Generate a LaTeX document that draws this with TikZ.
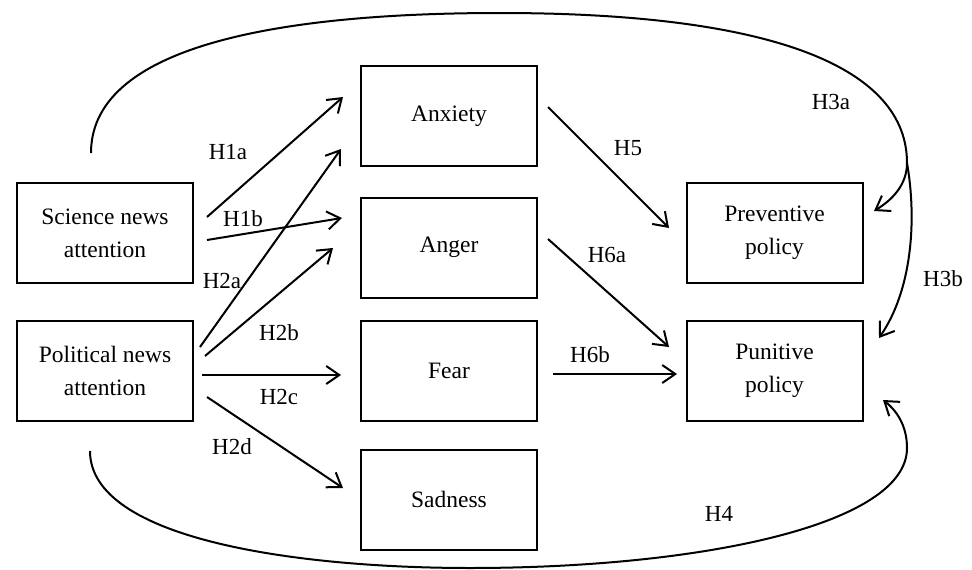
\documentclass[tikz,border=0pt]{standalone}
\usepackage{fontspec}
\setmainfont{Liberation Serif}
\usetikzlibrary{arrows.meta}
\begin{document}
\begin{tikzpicture}[x=1pt,y=-1pt,
  boxnode/.style={draw,line width=2pt,minimum width=176pt,minimum height=100pt,inner sep=0pt,align=center,font=\fontsize{23.5}{33}\selectfont},
  lab/.style={font=\fontsize{23}{26}\selectfont,inner sep=0pt},
  conn/.style={line width=2pt,-{Straight Barb[length=13pt,width=18pt,line width=2pt]}},
  plain/.style={line width=2pt}]
\useasboundingbox (0,0) rectangle (972,570);
% boxes
\node[boxnode] (sci)  at (105,233)   {Science news\\attention};
\node[boxnode] (pol)  at (105,370.5) {Political news\\attention};
\node[boxnode] (anx)  at (449,116)   {Anxiety};
\node[boxnode] (ang)  at (449,247.5) {Anger};
\node[boxnode] (fear) at (449,371)   {Fear};
\node[boxnode] (sad)  at (449,499.5) {Sadness};
\node[boxnode] (prev) at (774.5,233) {Preventive\\policy};
\node[boxnode] (pun)  at (774.5,371) {Punitive\\policy};
% connector ends
\coordinate (h1as) at (207,217); \coordinate (h1ae) at (343,97);
\coordinate (h1bs) at (207,240); \coordinate (h1be) at (342,218);
\coordinate (h2as) at (200,347); \coordinate (h2ae) at (341,149);
\coordinate (h2bs) at (205,356); \coordinate (h2be) at (333,248);
\coordinate (h2cs) at (202,375); \coordinate (h2ce) at (341,375);
\coordinate (h2ds) at (207,397); \coordinate (h2de) at (343,488);
\coordinate (h5s)  at (548,107); \coordinate (h5e)  at (669,228);
\coordinate (h6as) at (548,239); \coordinate (h6ae) at (669,347);
\coordinate (h6bs) at (553,374); \coordinate (h6be) at (677,374);
\coordinate (tops) at (91,153);  \coordinate (topm) at (500,13);
\coordinate (branch) at (907,163);
\coordinate (h3ae) at (874,211); \coordinate (h3be) at (879,338);
\coordinate (bots) at (90,451);  \coordinate (botm) at (470,568);
\coordinate (botr) at (907,448); \coordinate (h4e) at (883,400);
% straight connectors
\draw[conn] (h1as) -- (h1ae);
\draw[conn] (h1bs) -- (h1be);
\draw[conn] (h2as) -- (h2ae);
\draw[conn] (h2bs) -- (h2be);
\draw[conn] (h2cs) -- (h2ce);
\draw[conn] (h2ds) -- (h2de);
\draw[conn] (h5s) -- (h5e);
\draw[conn] (h6as) -- (h6ae);
\draw[conn] (h6bs) -- (h6be);
% top curve (H3a)
\draw[plain] (tops) .. controls (91,40) and (300,13) .. (topm)
  .. controls (780,13) and (907,70) .. (branch);
\draw[conn] (branch) .. controls (907,185) and (892,200) .. (h3ae);
% H3b
\draw[conn] (branch) .. controls (917,220) and (912,290) .. (h3be);
% bottom curve (H4)
\draw[conn] (bots) .. controls (90,540) and (300,568) .. (botm)
  .. controls (700,568) and (907,525) .. (botr)
  .. controls (907,425) and (896,410) .. (h4e);
% labels
\node[lab] (l1a) at (228,152) {H1a};
\node[lab] (l1b) at (243,219) {H1b};
\node[lab] (l2a) at (222,281) {H2a};
\node[lab] (l2b) at (279,333) {H2b};
\node[lab] (l2c) at (279,397) {H2c};
\node[lab] (l2d) at (232,447) {H2d};
\node[lab] (l5)  at (628,148) {H5};
\node[lab] (l6a) at (607,255) {H6a};
\node[lab] (l6b) at (590,355) {H6b};
\node[lab] (l3a) at (831,102) {H3a};
\node[lab] (l3b) at (943,279) {H3b};
\node[lab] (l4)  at (719,514) {H4};
\end{tikzpicture}
\end{document}
